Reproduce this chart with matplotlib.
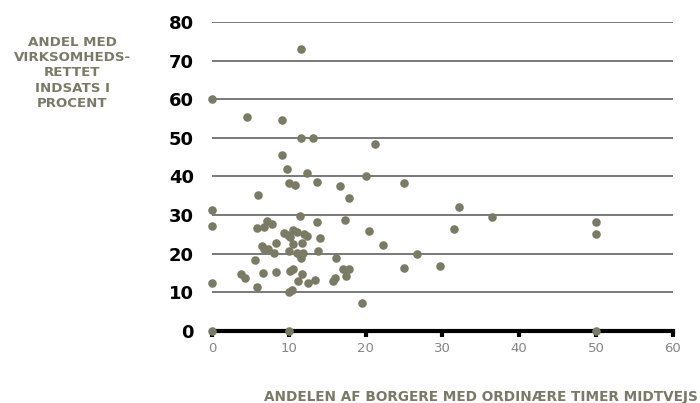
import matplotlib.pyplot as plt

# Andel borgere med ordinære timer midtvejs (x) vs. andel med virksomhedsrettet indsats (y)
x_vals = [11.55, 0, 4.5, 9.1, 11.55, 13.2, 21.2, 9.1, 9.7, 12.3, 20.0, 10.0, 10.85,
          13.6, 16.7, 25.0, 5.95, 17.8, 0, 11.5, 0, 5.8, 6.8, 7.2, 7.85, 13.6, 17.3,
          20.4, 9.4, 9.85, 10.5, 11.07, 12.0, 12.4, 10.15, 14.0, 8.3, 10.6, 11.75,
          6.55, 6.8, 7.25, 22.2, 8.1, 10.0, 11.0, 11.4, 11.9, 11.6, 13.8, 26.7, 5.6,
          16.2, 3.8, 4.25, 6.6, 8.3, 10.2, 10.6, 11.7, 11.2, 12.5, 13.4, 17.1, 17.8,
          17.45, 15.7, 15.95, 25.0, 29.65, 0, 5.8, 10.0, 10.4, 19.5, 0, 10, 32.1,
          36.4, 31.55, 50, 50, 50]
y_vals = [73.0, 60, 55.5, 54.6, 50, 50, 48.4, 45.5, 42, 40.9, 40.1, 38.4, 37.8,
          38.6, 37.6, 38.2, 35.3, 34.5, 31.3, 29.9, 27.3, 26.7, 27.0, 28.5, 27.6, 28.2, 28.8,
          25.9, 25.3, 24.95, 26.2, 25.7, 25.1, 24.6, 24.4, 24.2, 22.9, 22.5, 22.8,
          22.0, 21.3, 21.2, 22.2, 20.1, 20.8, 20.1, 19.8, 20.3, 18.8, 20.7, 20.0, 18.5,
          18.9, 14.8, 13.7, 14.9, 15.4, 15.6, 16.1, 14.8, 13.0, 12.5, 13.3, 16.1, 16.1,
          14.25, 12.9, 13.6, 16.2, 16.8, 12.5, 11.4, 10.1, 10.5, 7.3, 0, 0, 32.1,
          29.5, 26.3, 28.2, 25.0, 0]

x_ticks = [0, 10, 20, 30, 40, 50, 60]
y_ticks = [0, 10, 20, 30, 40, 50, 60, 70, 80]

label_color = '#7a7a68'
dot_color = '#7b7a65'

fig = plt.figure(figsize=(7, 4.03), dpi=100)
ax = fig.add_axes([0.303, 0.1787, 0.658, 0.7667])

ax.set_xlim(0, 60)
ax.set_ylim(0, 80)

# horizontal gridlines
for yv in y_ticks[1:]:
    ax.axhline(yv, color='#555555', lw=1.1, zorder=1)

ax.scatter(x_vals, y_vals, s=38, color=dot_color, zorder=3, clip_on=False,
           linewidths=0)

for side in ['left', 'right', 'top']:
    ax.spines[side].set_visible(False)
ax.spines['bottom'].set_linewidth(3)
ax.spines['bottom'].set_color('black')
ax.spines['bottom'].set_zorder(2)

ax.set_xticks(x_ticks)
ax.set_yticks(y_ticks)
ax.tick_params(axis='x', direction='out', length=4, width=3, color='black',
               labelsize=9.5, labelcolor='#858585', pad=4)
ax.tick_params(axis='y', length=0, labelsize=13, pad=13, labelcolor='black')
for lbl in ax.get_yticklabels():
    lbl.set_fontweight('bold')

fig.text(0.103, 0.819, 'ANDEL MED\nVIRKSOMHEDS-\nRETTET\nINDSATS I\nPROCENT',
         ha='center', va='center', fontsize=9.6, fontweight='bold',
         color=label_color, linespacing=1.23)
fig.text(0.997, 0.015, 'ANDELEN AF BORGERE MED ORDINÆRE TIMER MIDTVEJS',
         ha='right', va='center', fontsize=9.8, fontweight='bold',
         color=label_color)

fig.savefig('out.png', dpi=100)
